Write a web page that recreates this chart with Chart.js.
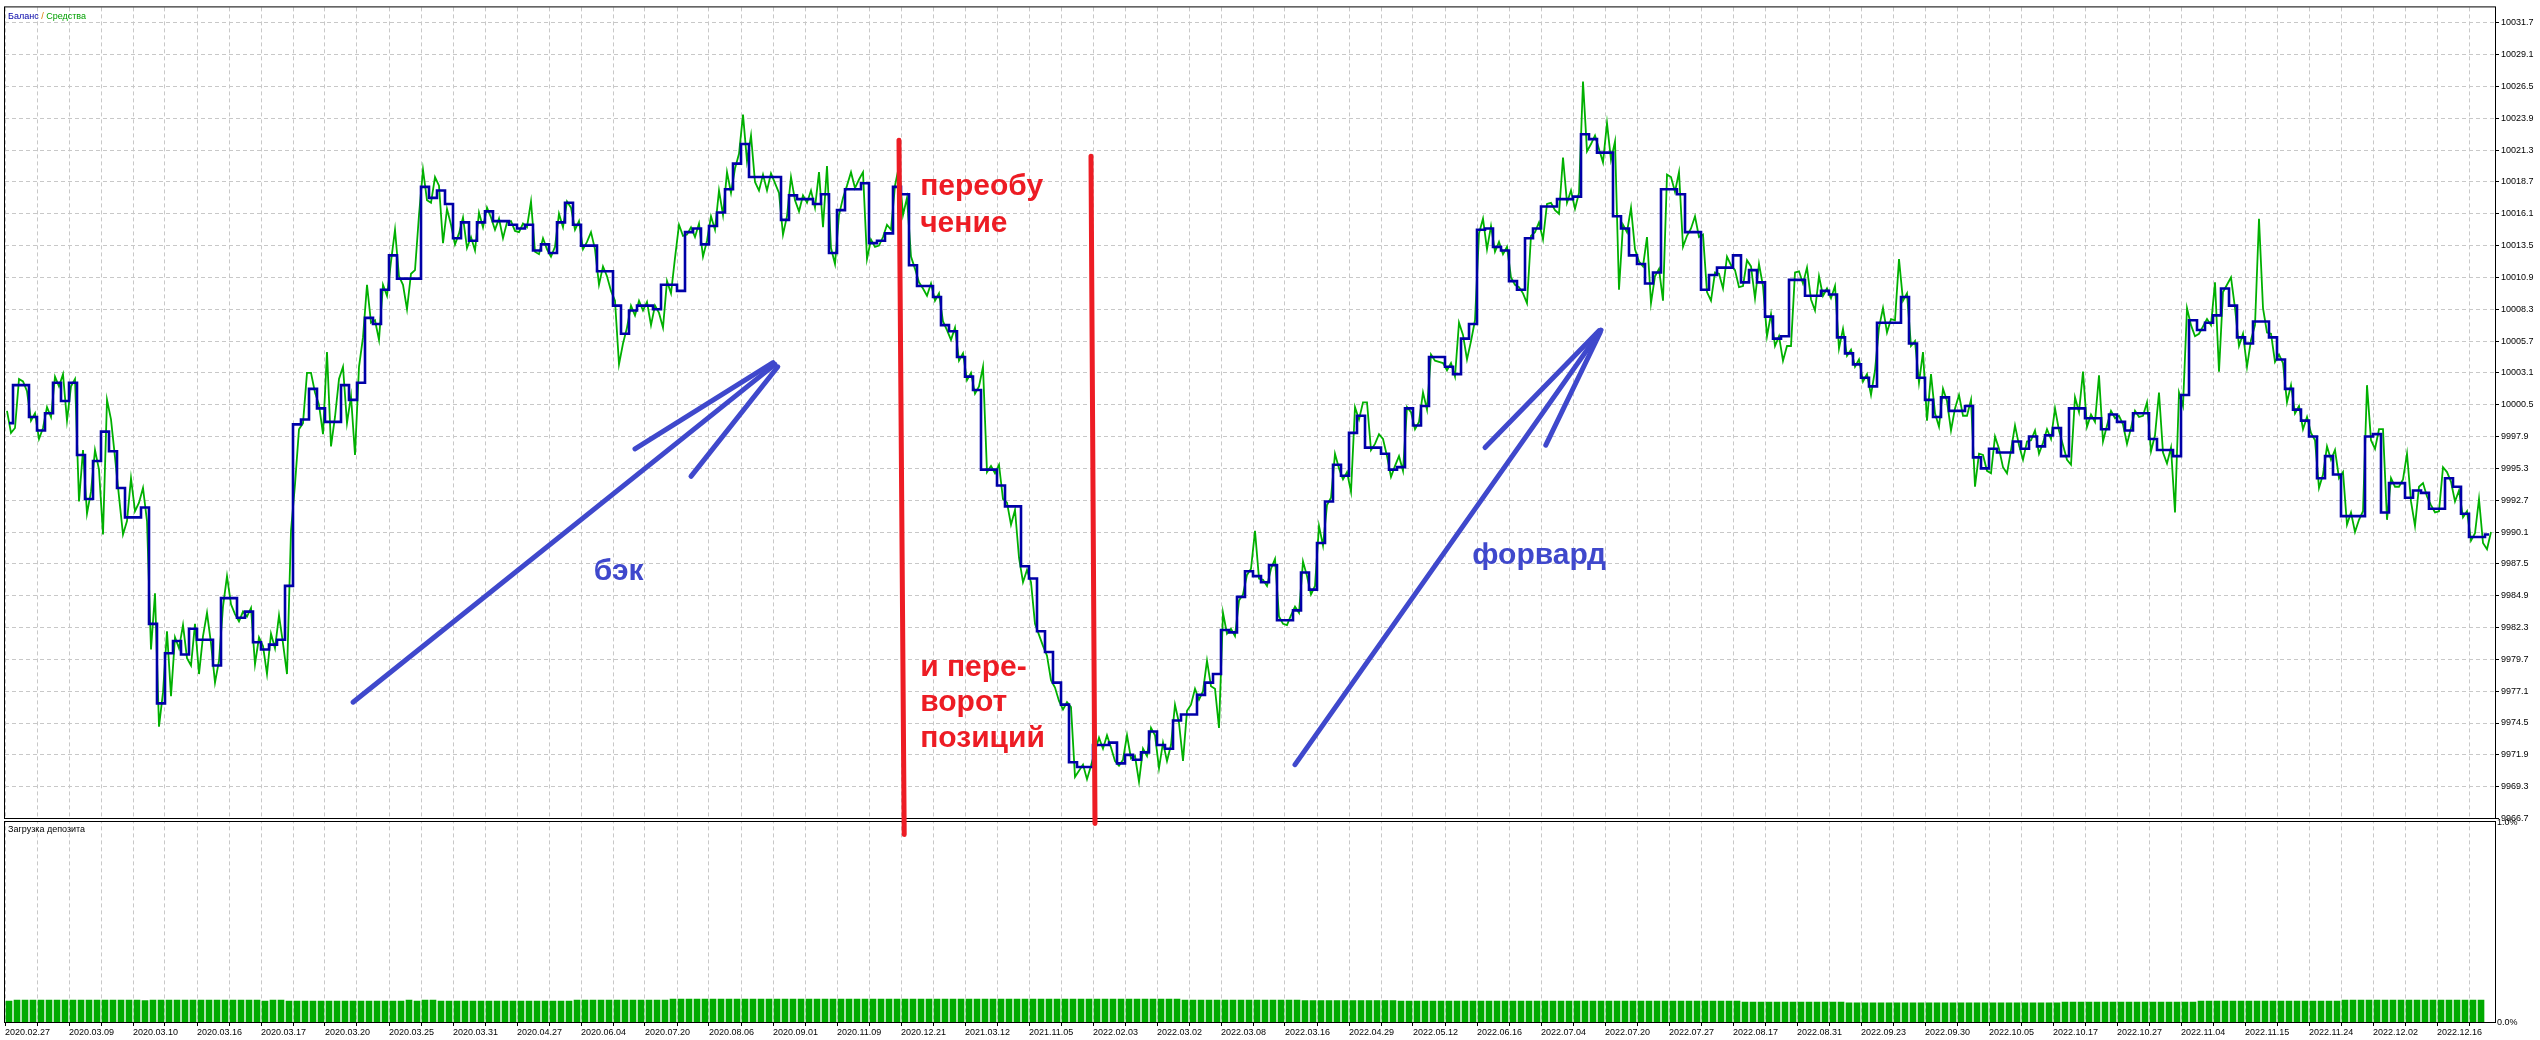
<!DOCTYPE html>
<html lang="ru">
<head>
<meta charset="utf-8">
<title>Баланс / Средства</title>
<script src="https://cdn.jsdelivr.net/npm/chart.js@4.4.1/dist/chart.umd.min.js"></script>
<style>
  html, body { margin: 0; padding: 0; background: #fff; }
  #chart { display: block; }
</style>
</head>
<body>
<canvas id="chart" width="2540" height="1040"></canvas>
<script>
// Подписи оси времени тестера: одна подпись на каждые 8 отсчётов.
const dateLabels = [
  "2020.02.27", "2020.03.09", "2020.03.10", "2020.03.16", "2020.03.17", "2020.03.20",
  "2020.03.25", "2020.03.31", "2020.04.27", "2020.06.04", "2020.07.20", "2020.08.06",
  "2020.09.01", "2020.11.09", "2020.12.21", "2021.03.12", "2021.11.05", "2022.02.03",
  "2022.03.02", "2022.03.08", "2022.03.16", "2022.04.29", "2022.05.12", "2022.06.16",
  "2022.07.04", "2022.07.20", "2022.07.27", "2022.08.17", "2022.08.31", "2022.09.23",
  "2022.09.30", "2022.10.05", "2022.10.17", "2022.10.27", "2022.11.04", "2022.11.15",
  "2022.11.24", "2022.12.02", "2022.12.16"
];

const balanceTicks = [
  9966.7, 9969.3, 9971.9, 9974.5, 9977.1, 9979.7, 9982.3, 9984.9, 9987.5, 9990.1,
  9992.7, 9995.3, 9997.9, 10000.5, 10003.1, 10005.7, 10008.3, 10010.9, 10013.5,
  10016.1, 10018.7, 10021.3, 10023.9, 10026.5, 10029.1, 10031.7
];
const loadTicks = [0, 1.0];

// Баланс: одно значение на отсчёт.
const balance = [
  9999.0, 10002.1, 10002.1, 9999.5, 9998.4, 9999.8, 10002.3, 10000.8, 10002.3, 9996.4,
  9992.8, 9995.9, 9998.3, 9996.7, 9993.7, 9991.3, 9991.3, 9992.1, 9982.6, 9976.1,
  9980.2, 9981.2, 9980.1, 9982.2, 9981.3, 9981.3, 9979.2, 9984.7, 9984.7, 9983.1,
  9983.6, 9981.1, 9980.5, 9980.9, 9981.3, 9985.7, 9998.9, 9999.3, 10001.8, 10000.2,
  9999.1, 9999.1, 10002.1, 10000.9, 10002.3, 10007.6, 10007.1, 10009.9, 10012.7, 10010.8,
  10010.8, 10010.8, 10018.3, 10017.4, 10018.0, 10016.9, 10014.1, 10015.4, 10013.9, 10015.4,
  10016.3, 10015.5, 10015.5, 10015.2, 10014.9, 10015.2, 10013.1, 10013.6, 10012.9, 10015.4,
  10017.0, 10015.2, 10013.5, 10013.5, 10011.4, 10011.4, 10008.6, 10006.3, 10008.2, 10008.6,
  10008.6, 10008.3, 10010.3, 10010.3, 10009.8, 10014.6, 10014.9, 10013.6, 10015.1, 10016.2,
  10018.1, 10020.2, 10021.8, 10019.1, 10019.1, 10019.1, 10019.1, 10015.6, 10017.6, 10017.3,
  10017.3, 10016.9, 10017.7, 10012.9, 10016.4, 10018.1, 10018.1, 10018.6, 10013.7, 10013.9,
  10014.5, 10018.3, 10017.7, 10011.9, 10010.2, 10010.2, 10009.3, 10007.0, 10006.5, 10004.4,
  10002.8, 10001.7, 9995.2, 9995.2, 9993.9, 9992.2, 9992.2, 9987.3, 9986.3, 9982.0,
  9980.3, 9977.8, 9976.0, 9971.3, 9970.9, 9970.9, 9972.7, 9972.7, 9972.9, 9971.2,
  9971.9, 9971.5, 9972.1, 9973.8, 9972.7, 9972.4, 9974.7, 9975.2, 9975.2, 9976.8,
  9977.8, 9978.5, 9982.1, 9981.9, 9984.8, 9986.9, 9986.5, 9986.0, 9987.4, 9982.9,
  9982.9, 9983.7, 9986.8, 9985.4, 9989.2, 9992.6, 9995.6, 9994.7, 9998.2, 9999.6,
  9997.0, 9997.0, 9996.5, 9995.2, 9995.4, 10000.2, 9998.8, 10000.4, 10004.4, 10004.4,
  10003.6, 10003.0, 10005.9, 10007.1, 10014.8, 10014.9, 10013.4, 10013.1, 10010.6, 10009.9,
  10014.1, 10014.9, 10016.7, 10016.7, 10017.3, 10017.3, 10017.5, 10022.6, 10022.2, 10021.1,
  10021.1, 10015.9, 10014.9, 10012.7, 10012.0, 10010.4, 10011.3, 10018.1, 10018.1, 10017.7,
  10014.6, 10014.6, 10009.9, 10011.1, 10011.7, 10011.7, 10012.7, 10010.5, 10011.5, 10010.5,
  10007.7, 10005.9, 10006.1, 10010.7, 10010.7, 10009.4, 10009.4, 10009.8, 10009.5, 10006.0,
  10004.7, 10003.8, 10002.7, 10002.0, 10007.2, 10007.2, 10007.2, 10009.3, 10005.5, 10002.7,
  10000.9, 9999.5, 10001.1, 10000.0, 10000.0, 10000.4, 9996.2, 9995.3, 9996.9, 9996.6,
  9996.6, 9997.5, 9996.9, 9997.9, 9997.1, 9998.0, 9998.6, 9996.3, 10000.2, 10000.2,
  9999.4, 9999.4, 9998.5, 9999.7, 9999.1, 9998.4, 9999.8, 9999.8, 9997.7, 9996.8,
  9996.8, 9996.3, 10001.3, 10007.4, 10006.6, 10007.2, 10007.8, 10010.0, 10008.6, 10006.0,
  10005.5, 10007.3, 10007.3, 10006.0, 10004.2, 10001.8, 10000.1, 9999.2, 9997.9, 9994.5,
  9996.3, 9994.8, 9991.4, 9991.4, 9991.4, 9997.9, 9998.1, 9991.7, 9994.1, 9994.1,
  9992.9, 9993.5, 9993.3, 9992.0, 9992.0, 9994.5, 9993.8, 9991.6, 9989.7, 9989.7, 9989.9
];

// Средства: два значения на отсчёт баланса (по 5 отсчётов на строку).
const equity = [
  10000.0, 9998.2, 9998.6, 10002.6, 10002.4, 10001.6, 9999.2, 9999.8, 9997.7, 9998.6,
  10000.3, 9999.5, 10002.8, 10002.0, 10003.0, 9999.2, 10002.0, 10002.6, 9992.6, 9996.8,
  9991.6, 9993.4, 9996.8, 9995.2, 9989.9, 10000.9, 9999.3, 9996.2, 9993.0, 9989.9,
  9991.0, 9994.5, 9991.8, 9992.5, 9993.7, 9991.0, 9980.5, 9985.1, 9974.2, 9977.0,
  9982.0, 9976.7, 9981.5, 9980.6, 9982.5, 9979.8, 9979.2, 9982.6, 9978.5, 9981.6,
  9983.5, 9981.0, 9977.8, 9979.6, 9984.0, 9986.5, 9984.2, 9983.4, 9982.8, 9983.6,
  9983.2, 9983.9, 9979.3, 9981.5, 9980.8, 9978.5, 9981.8, 9980.6, 9983.3, 9981.0,
  9978.5, 9990.2, 9994.0, 9998.5, 9999.0, 10003.1, 10003.1, 10001.5, 10000.5, 9998.1,
  10004.8, 9997.1, 9999.5, 10002.6, 10003.6, 9999.0, 10001.2, 9996.4, 10003.6, 10006.0,
  10010.3, 10007.2, 10007.4, 10005.8, 10010.3, 10009.4, 10012.2, 10014.8, 10011.0, 10010.3,
  10008.3, 10011.2, 10011.5, 10016.0, 10019.7, 10017.2, 10017.0, 10019.1, 10018.4, 10013.7,
  10016.5, 10015.2, 10013.6, 10014.5, 10015.8, 10013.3, 10014.2, 10013.1, 10016.2, 10015.0,
  10016.6, 10015.8, 10014.8, 10015.7, 10014.1, 10015.4, 10015.5, 10014.7, 10014.6, 10015.3,
  10015.0, 10017.1, 10013.0, 10012.8, 10014.1, 10013.2, 10012.6, 10013.4, 10016.1, 10015.0,
  10017.1, 10016.6, 10014.8, 10015.5, 10013.2, 10013.8, 10014.6, 10013.2, 10010.3, 10011.8,
  10011.0, 10009.8, 10009.0, 10003.8, 10005.5, 10006.8, 10008.6, 10007.8, 10009.0, 10008.2,
  10008.9, 10007.0, 10008.6, 10008.0, 10006.8, 10010.6, 10009.6, 10012.5, 10015.2, 10014.3,
  10014.4, 10015.0, 10014.2, 10015.3, 10012.6, 10013.9, 10015.9, 10014.8, 10018.0, 10016.0,
  10019.5, 10017.8, 10019.8, 10021.0, 10024.2, 10020.4, 10022.5, 10018.7, 10018.0, 10019.3,
  10018.0, 10019.4, 10018.6, 10017.8, 10014.4, 10015.9, 10019.1, 10017.2, 10016.3, 10017.6,
  10017.0, 10018.0, 10016.6, 10019.5, 10015.0, 10020.0, 10013.3, 10012.0, 10016.0, 10017.4,
  10018.4, 10019.5, 10018.2, 10018.9, 10019.5, 10012.4, 10014.0, 10013.4, 10013.5, 10014.2,
  10015.2, 10014.8, 10018.4, 10020.0, 10016.0, 10017.4, 10012.6, 10011.6, 10010.5, 10010.0,
  10009.4, 10010.4, 10009.0, 10009.6, 10007.3, 10006.6, 10005.8, 10006.8, 10004.1, 10004.7,
  10002.5, 10003.1, 10001.4, 10002.0, 10003.6, 9995.0, 9995.5, 9994.9, 9995.6, 9992.8,
  9992.5, 9990.7, 9991.9, 9988.0, 9986.0, 9987.0, 9986.0, 9982.6, 9981.7, 9980.8,
  9980.0, 9978.0, 9977.4, 9976.3, 9975.6, 9976.2, 9975.8, 9970.1, 9970.6, 9971.1,
  9969.9, 9971.0, 9972.2, 9973.3, 9972.4, 9973.5, 9972.5, 9971.4, 9971.0, 9971.5,
  9973.5, 9971.6, 9971.8, 9969.7, 9972.4, 9971.8, 9974.1, 9973.5, 9970.8, 9972.9,
  9971.4, 9972.7, 9976.0, 9974.5, 9971.4, 9975.5, 9976.0, 9977.3, 9976.4, 9977.1,
  9979.6, 9977.5, 9977.3, 9974.1, 9983.5, 9981.8, 9982.2, 9981.6, 9984.5, 9985.0,
  9986.6, 9987.1, 9990.2, 9986.3, 9986.2, 9985.7, 9987.1, 9987.9, 9983.2, 9982.6,
  9982.5, 9983.3, 9984.0, 9983.5, 9987.7, 9986.5, 9985.0, 9985.7, 9990.6, 9989.0,
  9992.3, 9992.9, 9996.5, 9995.3, 9994.4, 9995.0, 9993.4, 10000.3, 9999.3, 10000.7,
  10000.7, 9996.8, 9997.3, 9998.1, 9997.7, 9996.3, 9994.6, 9995.5, 9996.3, 9995.1,
  10000.3, 9999.9, 9998.5, 9999.1, 10001.5, 10000.1, 10004.6, 10004.1, 10004.0, 10003.9,
  10003.3, 10003.9, 10002.8, 10007.2, 10006.2, 10004.2, 10005.7, 10007.4, 10014.5, 10015.7,
  10013.2, 10015.1, 10013.0, 10013.8, 10012.8, 10013.4, 10010.9, 10010.3, 10010.1, 10009.6,
  10008.8, 10014.3, 10014.6, 10015.4, 10014.0, 10016.9, 10017.0, 10016.4, 10016.1, 10020.7,
  10017.0, 10018.0, 10016.5, 10017.8, 10026.9, 10021.2, 10021.8, 10022.5, 10021.4, 10020.3,
  10023.5, 10020.5, 10022.0, 10009.9, 10015.2, 10014.6, 10016.6, 10013.2, 10012.2, 10011.8,
  10014.2, 10008.8, 10011.0, 10011.6, 10009.0, 10019.3, 10019.1, 10017.9, 10019.5, 10013.4,
  10014.3, 10014.9, 10015.9, 10014.2, 10014.4, 10009.7, 10009.0, 10011.3, 10011.2, 10010.0,
  10012.6, 10011.9, 10011.5, 10010.1, 10010.2, 10012.3, 10011.8, 10009.2, 10012.0, 10010.2,
  10006.1, 10007.9, 10005.3, 10006.1, 10004.1, 10005.3, 10005.3, 10011.3, 10011.4, 10010.4,
  10011.7, 10009.1, 10008.2, 10011.0, 10009.4, 10010.0, 10009.2, 10010.2, 10005.1, 10006.7,
  10004.5, 10005.0, 10003.6, 10004.2, 10002.4, 10003.0, 10001.3, 10003.3, 10006.8, 10008.4,
  10006.4, 10007.5, 10007.4, 10012.4, 10009.0, 10009.6, 10005.3, 10005.7, 10002.3, 10004.8,
  9999.2, 10003.0, 9999.8, 9998.7, 10001.8, 10000.8, 9998.4, 10000.2, 10001.3, 9999.6,
  9999.6, 10000.9, 9993.8, 9996.5, 9996.4, 9995.1, 9994.9, 9997.9, 9996.9, 9995.4,
  9994.9, 9996.8, 9998.8, 9997.2, 9996.0, 9997.5, 9997.6, 9998.4, 9996.5, 9997.4,
  9998.5, 9997.7, 10000.2, 9998.4, 9997.2, 9996.0, 9995.6, 10001.1, 9999.9, 10003.2,
  9998.7, 9999.7, 9999.1, 10002.9, 9997.5, 9998.8, 10000.0, 9999.4, 9999.6, 9998.9,
  9997.3, 9998.6, 10000.0, 9999.5, 9999.6, 10000.7, 9996.7, 9998.0, 10001.5, 9996.6,
  9995.7, 9997.0, 9991.7, 10001.5, 10000.4, 10008.4, 10007.0, 10006.1, 10006.3, 10006.9,
  10007.5, 10007.0, 10010.5, 10003.2, 10009.7, 10010.3, 10010.9, 10008.4, 10005.3, 10006.3,
  10003.6, 10005.8, 10007.0, 10015.7, 10008.4, 10006.4, 10006.3, 10004.0, 10004.6, 10003.9,
  10000.7, 10002.1, 9999.8, 10000.4, 9998.5, 9999.5, 9998.2, 9997.6, 9993.7, 9994.8,
  9997.1, 9996.0, 9996.8, 9994.5, 9995.0, 9990.7, 9991.7, 9990.1, 9991.1, 9991.8,
  10002.1, 9997.6, 9996.9, 9998.5, 9998.5, 9991.1, 9994.5, 9993.8, 9993.8, 9994.4,
  9996.5, 9992.6, 9990.6, 9993.8, 9994.1, 9993.0, 9992.3, 9991.7, 9991.8, 9995.4,
  9995.0, 9994.2, 9992.6, 9993.5, 9991.3, 9991.8, 9989.4, 9990.0, 9992.8, 9989.2,
  9988.7, 9990.1
];

// Загрузка депозита, % (один столбик на отсчёт).
const depositLoad = [
  0.109, 0.114, 0.114, 0.114, 0.114, 0.114, 0.114, 0.114, 0.114, 0.114,
  0.114, 0.114, 0.114, 0.114, 0.114, 0.114, 0.114, 0.112, 0.114, 0.114,
  0.114, 0.114, 0.114, 0.114, 0.114, 0.114, 0.114, 0.114, 0.114, 0.114,
  0.114, 0.114, 0.109, 0.114, 0.114, 0.109, 0.109, 0.109, 0.109, 0.109,
  0.109, 0.109, 0.109, 0.109, 0.109, 0.109, 0.109, 0.109, 0.109, 0.109,
  0.114, 0.109, 0.114, 0.114, 0.109, 0.109, 0.109, 0.109, 0.109, 0.109,
  0.109, 0.109, 0.109, 0.109, 0.109, 0.109, 0.109, 0.109, 0.109, 0.109,
  0.109, 0.114, 0.114, 0.114, 0.114, 0.114, 0.114, 0.114, 0.114, 0.114,
  0.114, 0.114, 0.114, 0.119, 0.119, 0.119, 0.119, 0.119, 0.119, 0.119,
  0.119, 0.119, 0.119, 0.119, 0.119, 0.119, 0.119, 0.119, 0.119, 0.119,
  0.119, 0.119, 0.119, 0.119, 0.119, 0.119, 0.119, 0.119, 0.119, 0.119,
  0.119, 0.119, 0.119, 0.119, 0.119, 0.119, 0.119, 0.119, 0.119, 0.119,
  0.119, 0.119, 0.119, 0.119, 0.119, 0.119, 0.119, 0.119, 0.119, 0.119,
  0.119, 0.119, 0.119, 0.119, 0.119, 0.119, 0.119, 0.119, 0.119, 0.119,
  0.119, 0.119, 0.119, 0.119, 0.119, 0.119, 0.119, 0.114, 0.114, 0.114,
  0.114, 0.114, 0.114, 0.114, 0.114, 0.114, 0.114, 0.114, 0.114, 0.114,
  0.114, 0.114, 0.112, 0.112, 0.112, 0.112, 0.112, 0.112, 0.112, 0.112,
  0.112, 0.112, 0.112, 0.112, 0.109, 0.109, 0.109, 0.109, 0.109, 0.109,
  0.109, 0.109, 0.109, 0.109, 0.109, 0.109, 0.109, 0.109, 0.109, 0.109,
  0.109, 0.109, 0.109, 0.109, 0.109, 0.109, 0.109, 0.109, 0.109, 0.109,
  0.109, 0.109, 0.109, 0.109, 0.109, 0.109, 0.109, 0.109, 0.109, 0.109,
  0.109, 0.109, 0.109, 0.109, 0.109, 0.109, 0.109, 0.104, 0.104, 0.104,
  0.104, 0.104, 0.104, 0.104, 0.104, 0.104, 0.104, 0.104, 0.104, 0.104,
  0.100, 0.100, 0.100, 0.100, 0.100, 0.100, 0.100, 0.100, 0.100, 0.100,
  0.100, 0.100, 0.100, 0.100, 0.100, 0.100, 0.100, 0.100, 0.100, 0.100,
  0.100, 0.100, 0.100, 0.100, 0.100, 0.100, 0.100, 0.104, 0.104, 0.104,
  0.104, 0.104, 0.104, 0.104, 0.104, 0.104, 0.104, 0.104, 0.104, 0.104,
  0.104, 0.104, 0.104, 0.104, 0.109, 0.109, 0.109, 0.109, 0.109, 0.109,
  0.109, 0.109, 0.109, 0.109, 0.109, 0.109, 0.109, 0.109, 0.109, 0.109,
  0.109, 0.109, 0.114, 0.114, 0.114, 0.114, 0.114, 0.114, 0.114, 0.114,
  0.114, 0.114, 0.114, 0.114, 0.114, 0.114, 0.114, 0.114, 0.114, 0.114,
  0
];

// Пометки поверх графика (в координатах данных: отсчёт, баланс).
const markerLines = [
  [111.75, 10022.1, 112.4, 9965.4],
  [135.75, 10020.8, 136.25, 9966.3]
];
const arrowLines = [
  [43.5, 9976.2, 96.25, 10003.8],
  [78.75, 9996.9, 96.0, 10003.95],
  [85.75, 9994.65, 96.6, 10003.6],
  [161.25, 9971.1, 199.5, 10006.6],
  [185.0, 9997.0, 199.25, 10006.55],
  [192.6, 9997.2, 199.4, 10006.4]
];
const notes = [
  { text: "переобу", s: 114.4, v: 10017.6, red: true },
  { text: "чение", s: 114.4, v: 10014.6, red: true },
  { text: "и пере-", s: 114.4, v: 9978.3, red: true },
  { text: "ворот", s: 114.4, v: 9975.5, red: true },
  { text: "позиций", s: 114.4, v: 9972.5, red: true },
  { text: "бэк", s: 73.6, v: 9986.2, red: false },
  { text: "форвард", s: 183.4, v: 9987.5, red: false }
];

const FONT = '"Liberation Sans", Arial, sans-serif';
const gridColor = "#c8c8c8";
const penRed = "#ed1c24";
const penBlue = "#3f48cc";

const tickFont = { family: FONT, size: 9 };

// Рамки панелей, подписи панелей и пометки поверх всего.
const terminalFrame = {
  id: "terminalFrame",
  beforeDraw(chart) {
    const { ctx, width, height } = chart;
    ctx.save();
    ctx.fillStyle = "#fff";
    ctx.fillRect(0, 0, width, height);
    ctx.restore();
  },
  afterDraw(chart) {
    const { ctx, chartArea } = chart;
    const { x, y } = chart.scales;
    const left = chartArea.left;
    const right = chartArea.right;
    const split = Math.round(y.bottom);

    ctx.save();
    ctx.fillStyle = "#fff";
    ctx.fillRect(left, split + 1, right - left, 2);
    ctx.strokeStyle = "#000";
    ctx.lineWidth = 1;
    ctx.strokeRect(left - 0.5, chartArea.top - 0.5, right - left + 1, split - chartArea.top + 1);
    ctx.strokeRect(left - 0.5, split + 3.5, right - left + 1, chartArea.bottom - split - 4);

    ctx.font = "9px " + FONT;
    ctx.textBaseline = "middle";
    ctx.textAlign = "left";
    let tx = left + 3;
    [["Баланс", "#0000a8"], [" / ", "#d87800"], ["Средства", "#00a000"]].forEach(([t, c]) => {
      ctx.fillStyle = c;
      ctx.fillText(t, tx, chartArea.top + 9);
      tx += ctx.measureText(t).width;
    });
    ctx.fillStyle = "#000";
    ctx.fillText("Загрузка депозита", left + 3, split + 12);

    const px = (s) => x.getPixelForValue(s);
    const py = (v) => y.getPixelForValue(v);
    ctx.lineCap = "round";
    ctx.lineWidth = 5;
    const stroke = (list, color) => {
      ctx.strokeStyle = color;
      list.forEach(([s1, v1, s2, v2]) => {
        ctx.beginPath();
        ctx.moveTo(px(s1), py(v1));
        ctx.lineTo(px(s2), py(v2));
        ctx.stroke();
      });
    };
    stroke(arrowLines, penBlue);
    stroke(markerLines, penRed);

    ctx.font = "bold 30px " + FONT;
    ctx.textBaseline = "alphabetic";
    notes.forEach((n) => {
      ctx.fillStyle = n.red ? penRed : penBlue;
      ctx.fillText(n.text, px(n.s), py(n.v));
    });
    ctx.restore();
  }
};

new Chart(document.getElementById("chart"), {
  type: "line",
  data: {
    datasets: [
      {
        label: "Баланс",
        data: balance.map((v, i) => ({ x: i + 0.5, y: v })),
        borderColor: "#0000a8",
        borderWidth: 2.6,
        stepped: "middle",
        pointRadius: 0,
        yAxisID: "y",
        order: 0
      },
      {
        label: "Средства",
        data: equity.map((v, j) => ({ x: j / 2 + 0.25, y: v })),
        borderColor: "#00b000",
        borderWidth: 1.8,
        tension: 0,
        pointRadius: 0,
        yAxisID: "y",
        order: 1
      },
      {
        type: "bar",
        label: "Загрузка депозита",
        data: depositLoad.map((v, i) => ({ x: i + 0.5, y: v })),
        backgroundColor: "#00aa00",
        barThickness: 6,
        yAxisID: "y2",
        order: 2
      }
    ]
  },
  options: {
    responsive: false,
    animation: false,
    devicePixelRatio: 1,
    layout: { padding: { left: 5, top: 5, right: 0, bottom: 0 } },
    plugins: { legend: { display: false }, tooltip: { enabled: false } },
    scales: {
      x: {
        type: "linear",
        min: 0,
        max: 311.25,
        bounds: "data",
        offset: false,
        afterBuildTicks: (axis) => {
          axis.ticks = Array.from({ length: 78 }, (_, k) => ({ value: k * 4 }));
        },
        afterFit: (axis) => { axis.height = 17; },
        ticks: {
          autoSkip: false,
          maxRotation: 0,
          minRotation: 0,
          align: "start",
          padding: 1,
          color: "#000",
          font: tickFont,
          callback: (v) => (v % 8 === 0 ? dateLabels[v / 8] || "" : "")
        },
        grid: {
          color: gridColor,
          offset: false,
          drawTicks: true,
          tickLength: 3,
          tickColor: "#000",
          tickBorderDash: []
        },
        border: { display: false, dash: [4, 3] }
      },
      y: {
        type: "linear",
        position: "right",
        stack: "panes",
        stackWeight: 813,
        min: 9966.7,
        max: 10032.96,
        bounds: "data",
        afterBuildTicks: (axis) => {
          axis.ticks = balanceTicks.map((v) => ({ value: v }));
        },
        afterFit: (axis) => { axis.width = 45; },
        ticks: {
          autoSkip: false,
          padding: 2,
          color: "#000",
          font: tickFont,
          callback: (v) => v.toFixed(1)
        },
        grid: {
          color: gridColor,
          drawTicks: true,
          tickLength: 4,
          tickColor: "#000",
          tickBorderDash: []
        },
        border: { display: false, dash: [4, 3] }
      },
      y2: {
        type: "linear",
        position: "right",
        stack: "panes",
        stackWeight: 205,
        min: 0,
        max: 1.02,
        bounds: "data",
        afterBuildTicks: (axis) => {
          axis.ticks = loadTicks.map((v) => ({ value: v }));
        },
        afterFit: (axis) => { axis.width = 45; },
        ticks: {
          autoSkip: false,
          padding: 2,
          color: "#000",
          font: tickFont,
          callback: (v) => v.toFixed(1) + "%"
        },
        grid: { display: false, drawTicks: false },
        border: { display: false }
      }
    }
  },
  plugins: [terminalFrame]
});
</script>
</body>
</html>
